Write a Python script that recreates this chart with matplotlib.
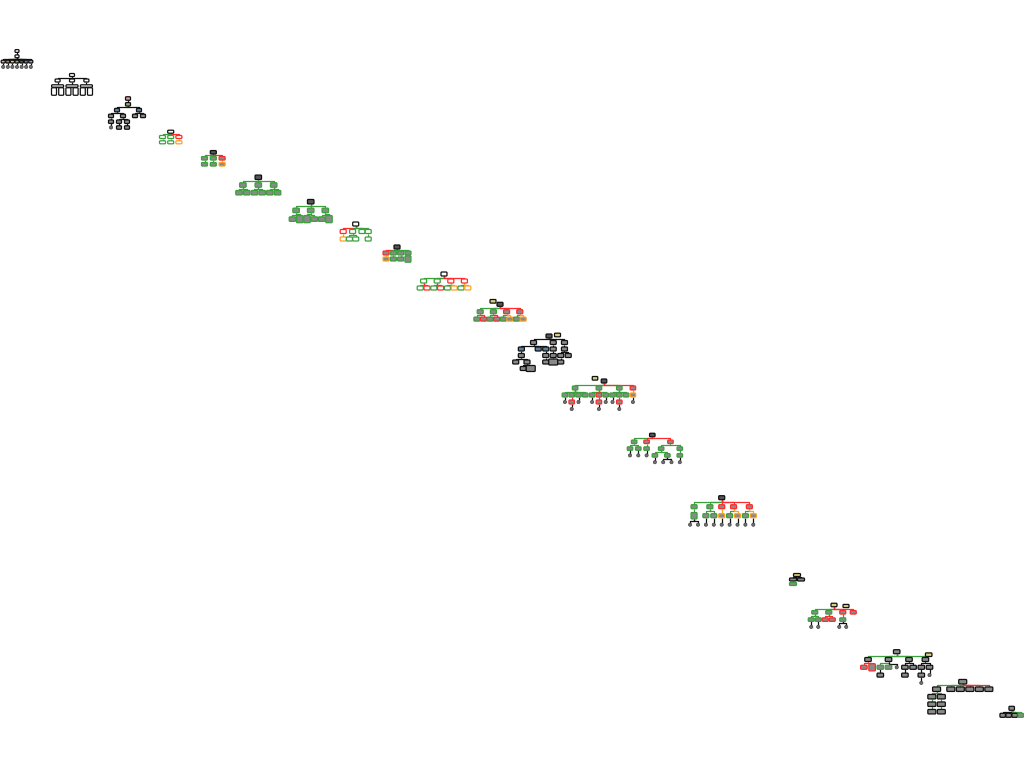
import matplotlib
matplotlib.use("Agg")
import matplotlib.pyplot as plt
from matplotlib.patches import FancyBboxPatch, Ellipse

# ---------------- data: tree structures (node kinds + parent index) ----------------
T01_NODES = "wwpbyednvccccccc"
T01_PARENTS = [-1, 0, 1, 1, 1, 1, 1, 1, 1, 2, 3, 4, 5, 6, 7, 8]

T02_NODES = "wwwwmmmWWWWWW"
T02_PARENTS = [-1, 0, 0, 0, 1, 2, 3, 4, 4, 5, 5, 6, 6]

T03_NODES = "pennkkkkkckkkk"
T03_PARENTS = [-1, 0, 1, 1, 2, 2, 4, 5, 5, 6, 7, 8, 3, 3]

T04_NODES = "wGGRGGO"
T04_PARENTS = [-1, 0, 0, 0, 1, 2, 3]

T05_NODES = "dggrggo"
T05_PARENTS = [-1, 0, 0, 0, 1, 2, 3]

T06_NODES = "dgggggggg g".replace(" ", "")
T06_PARENTS = [-1, 0, 0, 0, 1, 1, 2, 2, 3, 3]

T07_NODES = "ddggghhggh"[1:] if False else "dggggh hggh".replace(" ", "")
T07_PARENTS = [-1, 0, 0, 0, 1, 1, 2, 2, 3, 3]

T08_NODES = "wRGGGOGGG"
T08_PARENTS = [-1, 0, 0, 0, 0, 1, 2, 2, 4]

T09_NODES = "drgggoggh"
T09_PARENTS = [-1, 0, 0, 0, 0, 1, 2, 3, 4]

T10_NODES = "wGGRRGRGRGOGO"
T10_PARENTS = [-1, 0, 0, 0, 0, 1, 1, 2, 2, 3, 3, 4, 4]

T11_NODES = "dggrrgrgrgogo"
T11_PARENTS = [-1, 0, 0, 0, 0, 1, 1, 2, 2, 3, 3, 4, 4]

T12_NODES = "dkkknnnkkkkkkkkkkKkKk"
T12_PARENTS = [-1, 0, 0, 0, 1, 1, 1, 4, 2, 3, 7, 7, 6, 8, 9, 9, 11, 11, 12, 13, 14]

T13_NODES = "dgggrgggggrggggocrccrccrcccc"
T13_PARENTS = [-1, 0, 0, 0, 0, 1, 1, 1, 1, 2, 2, 2, 3, 3, 3, 4,
               5, 6, 7, 9, 10, 11, 12, 13, 15, 17, 20, 23]

T14_NODES = "dgrrgggggcccgggcccc"
T14_PARENTS = [-1, 0, 0, 0, 1, 1, 2, 3, 3, 4, 5, 6, 7, 7, 8, 12, 13, 13, 14]

T15_NODES = "dggrrrhggogogoccccccccc"
T15_PARENTS = [-1, 0, 0, 0, 0, 0, 1, 2, 2, 3, 4, 4, 5, 5,
               6, 6, 7, 8, 9, 10, 11, 12, 13]

T16_NODES = "ykkg"
T16_PARENTS = [-1, 0, 0, 1]

T17_NODES = "yggrrggrrgcccc"
T17_PARENTS = [-1, 0, 0, 0, 0, 1, 1, 2, 2, 3, 5, 6, 9, 9]

T18_NODES = "kkkkkrqggckkkkkkkcc"
T18_PARENTS = [-1, 0, 0, 0, 0, 1, 1, 2, 2, 2, 3, 3, 4, 4, 7, 10, 12, 13, 16]
T18_EDGES = "kggggrrggkkkkkkkkkk"

T19_NODES = "kkkkkkkkkkkkk"
T19_PARENTS = [-1, 0, 0, 0, 0, 0, 0, 1, 2 - 1, 7, 8, 9, 10]
T19_EDGES = "kgggrrrgggggg"

T20_NODES = "kkkkg"
T20_PARENTS = [-1, 0, 0, 0, 0]

TREES = [
    (T01_NODES, T01_PARENTS, None), (T02_NODES, T02_PARENTS, None),
    (T03_NODES, T03_PARENTS, None), (T04_NODES, T04_PARENTS, None),
    (T05_NODES, T05_PARENTS, None), (T06_NODES, T06_PARENTS, None),
    (T07_NODES, T07_PARENTS, None), (T08_NODES, T08_PARENTS, None),
    (T09_NODES, T09_PARENTS, None), (T10_NODES, T10_PARENTS, None),
    (T11_NODES, T11_PARENTS, None), (T12_NODES, T12_PARENTS, None),
    (T13_NODES, T13_PARENTS, None), (T14_NODES, T14_PARENTS, None),
    (T15_NODES, T15_PARENTS, None), (T16_NODES, T16_PARENTS, None),
    (T17_NODES, T17_PARENTS, None), (T18_NODES, T18_PARENTS, T18_EDGES),
    (T19_NODES, T19_PARENTS, T19_EDGES), (T20_NODES, T20_PARENTS, None),
]

# ---------------- layout: root position, slot spacing, level spacing, box size, badge ----------------
PLACES = [
    (17.0, 51.0, 4.6, 5.3, 4.0, 2.8, None),
    (72.0, 75.0, 7.2, 5.5, 5.0, 3.0, None),
    (128.0, 98.5, 8.0, 5.8, 5.0, 3.5, None),
    (170.7, 131.7, 8.2, 5.3, 6.0, 3.0, None),
    (213.3, 152.3, 8.8, 6.0, 6.0, 3.5, None),
    (258.3, 177.3, 7.7, 7.7, 6.5, 4.5, None),
    (310.7, 201.7, 7.3, 8.7, 6.5, 4.5, None),
    (355.7, 224.0, 6.25, 7.5, 6.0, 4.0, None),
    (397.0, 247.0, 7.3, 6.0, 6.0, 4.0, None),
    (444.0, 274.0, 6.8, 7.0, 6.0, 4.0, None),
    (500.0, 304.3, 6.6, 7.4, 6.0, 4.0, (-7.0, -3.0)),
    (549.0, 336.0, 7.5, 6.5, 6.0, 4.0, (8.5, -1.0)),
    (604.0, 381.0, 6.8, 7.0, 5.5, 4.0, (-9.0, -2.7)),
    (652.3, 435.0, 8.3, 6.8, 5.5, 3.5, None),
    (721.7, 497.7, 7.9, 9.0, 6.0, 4.0, None),
    (797.0, 575.0, 8.0, 4.5, 7.0, 3.0, None),
    (834.0, 605.0, 7.0, 7.3, 6.0, 3.5, (12.0, 1.0)),
    (896.7, 651.7, 8.2, 7.8, 6.5, 4.0, (32.0, 3.0)),
    (962.7, 681.7, 9.5, 7.5, 8.0, 4.5, None),
    (1011.7, 708.3, 6.0, 7.0, 5.5, 4.0, None),
]

GREEN = "#3aa03a"
RED = "#ff2a2a"
ORANGE = "#ffa020"
BLACK = "#111111"
BORDER = {}
for ch in "wkdypbenvmWK":
    BORDER[ch] = BLACK
for ch in "gGh":
    BORDER[ch] = GREEN
for ch in "rRq":
    BORDER[ch] = RED
for ch in "oO":
    BORDER[ch] = ORANGE
BORDER["c"] = BLACK
FACE = {"w": "white", "m": "white", "W": "white", "G": "white", "R": "white", "O": "white",
        "k": "#8a8a8a", "g": "#8a8a8a", "r": "#8a8a8a", "o": "#8a8a8a", "h": "#8a8a8a",
        "q": "#8a8a8a", "K": "#8a8a8a", "d": "#555555", "y": "#d9d27a", "p": "#e0a0a0",
        "b": "#a08a60", "e": "#8fb070", "n": "#5f7f9f", "v": "#a898c8", "c": "#707070"}
SCALE = {"m": (2.4, 0.8), "W": (1.0, 2.5), "h": (1.0, 1.6), "q": (1.0, 1.8), "K": (1.5, 1.5)}
EDGE_COL = {"k": BLACK, "g": GREEN, "r": RED, "o": ORANGE}


def layout(parents):
    n = len(parents)
    children = [[] for _ in range(n)]
    for i, p in enumerate(parents):
        if p >= 0:
            children[p].append(i)
    slot, depth = {}, {}
    counter = [0]

    def rec(i, d):
        depth[i] = d
        if not children[i]:
            slot[i] = counter[0]
            counter[0] += 1
        else:
            for c in children[i]:
                rec(c, d + 1)
            slot[i] = (slot[children[i][0]] + slot[children[i][-1]]) / 2.0
    rec(0, 0)
    return slot, depth


fig = plt.figure(figsize=(10.24, 7.68), dpi=100)
ax = fig.add_axes([0, 0, 1, 1])
ax.set_xlim(0, 1024)
ax.set_ylim(768, 0)
ax.axis("off")

for (nodes, parents, edges), (x0, y0, dx, dy, w, h, badge) in zip(TREES, PLACES):
    slot, depth = layout(parents)
    pos = {i: (x0 + (slot[i] - slot[0]) * dx, y0 + depth[i] * dy) for i in slot}

    def size(i):
        sx, sy = SCALE.get(nodes[i], (1.0, 1.0))
        if nodes[i] == "c":
            return 3.2, 3.2
        return w * sx, h * sy

    # edges (elbow connectors)
    for i, p in enumerate(parents):
        if p < 0:
            continue
        px, py = pos[p]
        cx, cy = pos[i]
        _, ph = size(p)
        _, ch_ = size(i)
        yb = py + ph / 2.0
        yt = cy - ch_ / 2.0
        ym = (yb + yt) / 2.0
        if edges is not None:
            col = EDGE_COL[edges[i]]
        else:
            col = BLACK if nodes[i] == "c" else BORDER[nodes[i]]
        ax.plot([px, px, cx, cx], [yb, ym, ym, yt], color=col, lw=0.9,
                solid_capstyle="butt", zorder=1)

    # nodes
    for i in range(len(nodes)):
        cx, cy = pos[i]
        k = nodes[i]
        bw, bh = size(i)
        if k == "c":
            ax.add_patch(Ellipse((cx, cy), bw, bh, facecolor=FACE[k],
                                 edgecolor="#444444", lw=0.5, zorder=3))
        else:
            ax.add_patch(FancyBboxPatch((cx - bw / 2, cy - bh / 2), bw, bh,
                                        boxstyle="round,pad=0,rounding_size=0.9",
                                        facecolor=FACE[k], edgecolor=BORDER[k],
                                        lw=0.9, zorder=3))
    if badge is not None:
        bx, by = pos[0][0] + badge[0], pos[0][1] + badge[1]
        ax.add_patch(FancyBboxPatch((bx - w / 2, by - h * 0.45), w, h * 0.9,
                                    boxstyle="round,pad=0,rounding_size=0.8",
                                    facecolor=FACE["y"], edgecolor=BLACK,
                                    lw=0.9, zorder=3))

fig.savefig("out.png", dpi=100)
